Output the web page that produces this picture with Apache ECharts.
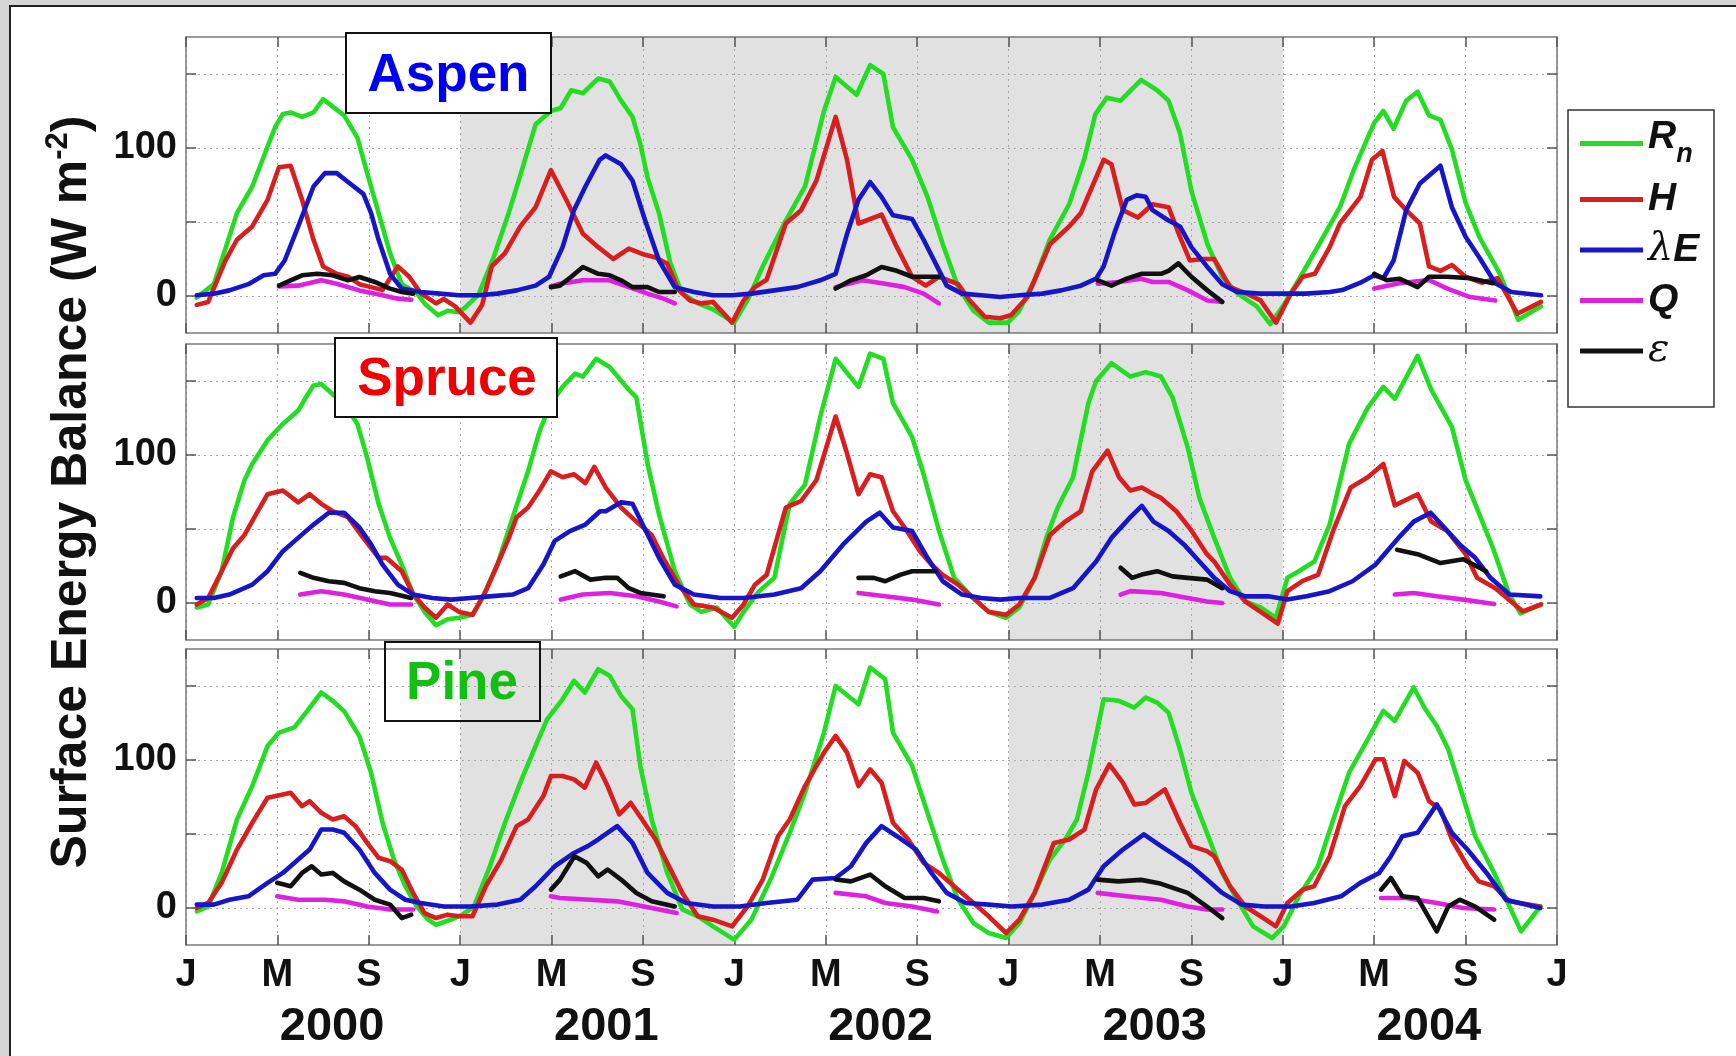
<!DOCTYPE html>
<html><head><meta charset="utf-8">
<script src="https://cdn.jsdelivr.net/npm/echarts@6/dist/echarts.min.js"></script>
<style>
html,body{margin:0;padding:0;width:1736px;height:1056px;overflow:hidden;background:#d6d6d6;}
#frame{position:absolute;left:9px;top:5px;width:1760px;height:1080px;background:#fff;border-left:2px solid #222;border-top:2px solid #222;}
#chart{position:absolute;left:0;top:0;width:1736px;height:1056px;}
</style></head>
<body><div id="frame"></div><div id="chart"></div>
<script>
// ---------- tick labels ----------
const monthLabels = ['J', 'M', 'S'];
const years = ['2000', '2001', '2002', '2003', '2004'];
const yTickValues = [0, 50, 100, 150];
const yLabelValues = [0, 100];
const seriesNames = ['Rn', 'H', 'λE', 'Q', 'ε'];
const siteNames = ['Aspen', 'Spruce', 'Pine'];

// ---------- shaded periods (months since Jan 2000) ----------
const aspenShade = [[12, 48]];
const spruceShade = [[36, 48]];
const pineShade = [[12, 24], [36, 48]];

// ---------- ASPEN ----------
const aspenRn = [[0.47,-1],[1.22,8],[2.23,56],[2.9,74],[3.57,101],[3.9,114],[4.24,123],[4.58,124],[5.08,121],[5.58,124],[6.0,133],[6.42,128],[6.92,122],[7.5,107],[7.93,83],[8.43,56],[8.93,29],[9.44,8],[10.1,2],[10.44,-5],[11.03,-13],[11.45,-10],[11.95,-11],[12.2,-8],[12.8,1],[13.46,26],[14.1,55],[14.6,80],[15.3,116],[15.97,125],[16.4,127],[16.86,139],[17.37,137],[18.04,147],[18.54,145],[19.04,132],[19.54,121],[19.88,103],[20.2,80],[20.7,56],[21.2,22],[21.7,2],[22.4,-5],[23.06,-9],[23.99,-18],[24.57,-3],[25.24,20],[26.25,51],[27.09,74],[27.92,125],[28.43,148],[29.35,136],[29.94,156],[30.52,150],[30.94,114],[31.78,92],[32.45,67],[33.12,35],[33.79,6],[34.46,-10],[35.13,-18],[35.97,-18],[36.47,-10],[37.14,11],[37.8,38],[38.65,62],[39.3,92],[39.8,123],[40.3,134],[40.9,132],[41.8,146],[42.5,139],[43.0,132],[43.5,110],[44.0,71],[44.7,35],[45.35,13],[46.0,2],[46.86,-7],[47.45,-19],[48.0,-7],[48.7,11],[49.7,38],[50.5,60],[51.1,85],[52.0,117],[52.4,125],[52.85,113],[53.4,132],[53.9,138],[54.4,122],[54.9,119],[55.4,99],[56.0,63],[56.6,40],[57.5,15],[58.3,-16],[59.3,-7]];
const aspenH = [[0.47,-6],[0.97,-4],[1.73,24],[2.23,38],[2.9,47],[3.57,65],[4.07,87],[4.58,88],[5.08,65],[5.58,38],[6.0,20],[6.59,15],[7.09,13],[7.59,8],[8.1,6],[8.6,4],[9.27,20],[9.77,13],[10.27,2],[10.94,-5],[11.28,-2],[11.78,-7],[12.45,-18],[12.96,-6],[13.38,20],[13.96,29],[14.63,47],[15.3,60],[15.97,85],[16.64,65],[17.37,42],[18.04,33],[18.7,25],[19.38,32],[20.05,28],[20.55,26],[21.05,22],[21.56,4],[22.06,-3],[22.56,-5],[23.06,-4],[23.9,-18],[24.4,-3],[24.9,6],[25.41,11],[26.25,49],[26.92,58],[27.59,78],[28.43,121],[28.93,92],[29.43,49],[30.44,55],[31.11,33],[31.78,13],[32.37,7],[32.95,13],[33.79,8],[34.3,-3],[34.96,-14],[35.63,-15],[36.1,-13],[36.81,-1],[37.81,35],[38.65,47],[39.16,56],[39.66,74],[40.16,92],[40.5,89],[41.0,58],[41.66,53],[42.3,62],[43.0,60],[43.5,40],[43.93,24],[44.5,25],[45.0,25],[45.69,6],[46.36,2],[47.03,-3],[47.7,-18],[48.37,2],[48.87,13],[49.4,15],[50.05,33],[50.5,49],[51.4,67],[51.9,92],[52.36,98],[52.87,67],[53.4,58],[54.0,49],[54.4,20],[54.9,17],[55.4,21],[56.0,13],[56.7,9],[57.4,12],[58.27,-12],[59.3,-4]];
const aspenLE = [[0.47,0.5],[1.22,1.6],[1.9,3.8],[2.73,8],[3.4,14],[3.9,15],[4.32,24],[4.91,47],[5.58,74],[6.08,83],[6.6,83],[7.09,77],[7.76,69],[8.1,56],[8.43,38],[8.93,15],[9.44,5],[10.27,2.7],[11.1,1.6],[11.95,0.5],[12.79,0.5],[13.63,1.6],[14.47,3.8],[15.3,7],[15.89,13],[16.48,33],[16.98,58],[17.48,74],[18.1,92],[18.37,95],[19.04,89],[19.54,78],[20.05,53],[20.7,24],[21.39,6],[22.23,2.7],[23.06,0.5],[23.9,0.5],[24.74,1.6],[25.75,3.8],[26.75,6],[27.76,10.6],[28.43,15],[28.93,42],[29.43,65],[29.94,77],[30.44,67],[30.94,54.5],[31.78,52],[32.28,38],[32.87,20],[33.29,7],[33.96,1.6],[34.8,0.5],[35.63,-0.7],[36.47,0.5],[37.48,1.6],[38.3,3.8],[39.16,7],[39.83,11.7],[40.16,20],[40.66,44],[41.17,65],[41.6,68],[42.0,67],[42.3,58],[43.0,51],[43.5,47],[44.0,33],[44.68,20],[45.35,8],[46.0,2.7],[47.03,1.6],[48.0,1.6],[49.0,1.6],[50.05,2.7],[50.6,4],[51.4,9],[52.0,14],[52.4,12],[52.85,24],[53.4,58],[54.0,76],[54.9,88],[55.4,60],[56.0,40],[56.6,26],[57.3,8.6],[58.0,2.7],[59.3,0.5]];
const aspenQ = [
  [[4.07,6.5],[4.91,7],[5.92,10.6],[6.59,8.3],[7.59,3.8],[8.6,0.5],[9.27,-1.8],[9.86,-2.5]],
  [[15.97,6.5],[16.36,8.3],[17.37,10.6],[18.54,10.6],[19.38,6],[20.2,1.6],[20.9,-1.8],[21.39,-5]],
  [[28.43,6],[29.6,10.6],[30.6,8.3],[31.45,6],[32.28,1.6],[32.95,-5]],
  [[39.9,8.3],[40.8,9.5],[41.8,11.7],[42.3,9.5],[43.0,9.5],[43.85,3.8],[44.7,-3],[45.35,-4]],
  [[52.0,5],[53.1,8.6],[54.4,10.8],[55.2,5],[56.2,-0.7],[57.3,-3]]
];
const aspenEps = [
  [[4.07,7],[4.58,10.6],[5.08,14],[5.75,15],[6.42,14],[7.09,10.6],[7.59,12.8],[8.26,9.5],[8.93,5],[9.44,2.7],[9.94,1.6]],
  [[15.97,6],[16.36,7],[16.86,13],[17.37,19.6],[18.04,15],[18.54,14],[19.04,10.6],[19.54,6],[20.2,6],[20.7,2.7],[21.39,2.7]],
  [[28.43,5],[29.1,10.6],[29.77,14],[30.44,19.6],[31.11,17],[31.78,13],[32.45,13],[32.95,13]],
  [[39.9,10.6],[40.5,7],[41.17,11.7],[41.83,15],[42.67,15],[43.0,17],[43.43,22],[44.0,13],[44.7,3.8],[45.35,-4]],
  [[52.0,15],[52.55,10.6],[53.1,11.7],[53.9,6],[54.4,13],[55.2,13],[56.2,12],[57.2,8.6]]
];

// ---------- SPRUCE ----------
const spruceRn = [[0.47,-3],[0.97,-1],[1.56,21.5],[2.06,58],[2.56,83],[2.9,94],[3.57,110],[4.24,121],[4.91,130],[5.25,139],[5.58,147],[5.92,148],[6.42,141],[6.92,135],[7.5,121],[7.93,98],[8.43,67],[8.93,44],[9.44,26],[9.94,6],[10.44,-6],[10.94,-15],[11.45,-11],[11.95,-10],[12.54,-8],[12.96,3],[13.63,26],[14.3,58],[14.97,89],[15.47,116],[15.97,135],[16.48,146],[17.03,155],[17.37,153],[17.95,165],[18.54,159.5],[19.38,144],[19.71,139],[20.2,94],[20.7,60],[21.39,21.5],[22.06,-1],[22.56,-6],[23.23,-3],[23.99,-16],[24.4,-6],[25.08,8],[25.75,17],[26.42,67],[27.09,80],[27.76,126],[28.43,165],[29.43,146],[29.94,168.5],[30.52,165],[30.94,135],[31.78,112],[32.28,87],[32.95,49],[33.62,17],[34.46,3],[35.13,-6],[35.89,-10],[36.47,-3],[37.14,17],[37.65,44],[38.15,64.5],[38.82,85],[39.49,135],[39.83,150],[40.5,162],[41.33,153],[42.0,156],[42.67,153],[43.17,139],[43.84,105],[44.35,71],[45.0,44],[45.69,17],[46.36,1],[47.03,-3],[47.7,-10],[48.2,17],[48.7,21.5],[49.38,28],[50.05,53],[50.9,107.5],[51.72,132],[52.4,146],[52.9,138],[53.9,167],[54.5,144],[55.4,119],[56.0,83],[56.6,60],[57.2,37],[57.9,6],[58.4,-7],[59.3,-1]];
const spruceH = [[0.47,-1],[0.97,3.4],[1.56,21.5],[2.06,37],[2.56,46],[3.07,60],[3.57,73.5],[4.24,76],[4.91,68],[5.41,73.5],[5.92,67],[6.42,62],[7.09,58],[7.76,44],[8.43,30.5],[8.77,30.5],[9.44,21.5],[9.94,6],[10.44,-3],[10.94,-10],[11.45,-1],[11.95,-6],[12.54,-8],[13.12,8],[13.63,26],[14.13,44],[14.47,58],[14.97,64.5],[15.47,76],[15.97,89],[16.48,85],[16.98,87],[17.48,81],[17.87,92],[18.37,78],[19.04,64.5],[19.71,55],[20.38,46],[20.88,30.5],[21.56,12.4],[22.23,-1],[23.06,-3],[23.9,-10],[24.4,-1],[24.9,12.4],[25.41,19],[26.25,64.5],[26.92,69],[27.59,83],[28.43,126],[28.93,101],[29.43,73.5],[29.94,87],[30.44,85],[30.94,62],[31.45,51],[32.12,35],[32.62,26],[33.12,19],[33.79,12.4],[34.46,3.4],[35.13,-6],[35.89,-8],[36.47,-1],[37.14,17],[37.81,46],[38.48,55],[39.16,62],[39.66,89],[40.33,103],[40.83,85],[41.33,76],[41.83,78],[42.4,73],[42.67,71],[43.34,62],[44.0,49],[44.68,33],[45.0,28],[45.69,12.4],[46.36,1],[47.03,-6],[47.78,-14],[48.2,8],[48.87,15],[49.54,19],[50.21,49],[50.97,78],[51.72,85],[52.4,94],[52.9,66],[53.9,73.5],[54.5,55],[55.2,48.6],[56.0,33],[56.5,17],[57.3,10],[58.5,-5.6],[59.3,-1]];
const spruceLE = [[0.47,3.4],[1.22,3.4],[1.9,5.7],[2.9,12.4],[3.57,21.5],[4.24,35],[4.91,44],[5.58,53],[6.25,61],[6.92,61],[7.59,51],[8.1,39.6],[8.6,26],[9.27,12.4],[9.94,5.7],[10.78,3.4],[11.6,2.3],[12.45,3.4],[13.29,4.5],[14.3,5.7],[14.97,10],[15.64,26],[16.14,42],[16.8,48.6],[17.48,53],[18.12,62],[18.37,62],[19.04,68],[19.54,67],[20.05,51],[20.7,30.5],[21.39,12.4],[22.23,5.7],[23.4,3.4],[24.4,3.4],[25.75,5.7],[26.92,10],[27.76,21.5],[28.76,39.6],[29.77,55],[30.36,61],[30.94,51],[31.78,48.6],[32.45,30.5],[33.12,14.7],[33.96,5.7],[34.8,3.4],[35.63,2.3],[36.47,3.4],[37.81,3.4],[38.82,10],[39.83,28],[40.5,44],[41.33,58],[41.83,65.6],[42.34,55],[43.0,48.6],[43.67,39.6],[44.35,28],[45.0,17],[45.69,8],[46.36,4.5],[47.36,4.5],[48.2,2.3],[49.04,4.5],[50.05,8],[51.05,14.7],[52.06,26],[53.06,44],[53.73,55],[54.47,61],[55.07,51],[55.74,39.6],[56.42,30.5],[57.09,17],[57.92,5.7],[59.27,4.5]];
const spruceQ = [
  [[5.0,5.7],[5.92,8],[6.92,5.7],[7.93,2.3],[8.93,-1],[9.86,-1]],
  [[16.4,2.3],[17.37,5.7],[18.54,6.8],[19.71,4.5],[20.7,1],[21.47,-2.3]],
  [[29.43,6.8],[30.6,4.5],[31.78,2.3],[32.95,-1]],
  [[40.9,5.7],[41.33,8],[42.67,6.8],[43.84,3.4],[44.68,1],[45.35,0]],
  [[52.9,5.7],[53.73,6.8],[54.74,4.5],[55.9,2.3],[57.25,-0.7]]
];
const spruceEps = [
  [[5.0,20.4],[5.58,17],[6.25,14.7],[6.92,13.6],[7.59,10],[8.26,8],[8.93,6.8],[9.86,3.4]],
  [[16.4,18],[17.03,21.5],[17.7,15.8],[18.37,17],[18.87,17],[19.38,10],[19.88,6.8],[20.9,4.5]],
  [[29.43,17],[30.1,17],[30.6,14.7],[31.28,19.2],[31.78,21.5],[32.8,21.5]],
  [[40.9,23.8],[41.4,17],[41.83,19.2],[42.5,21.5],[43.17,18],[43.84,17],[44.68,15.8],[45.35,10]],
  [[53.0,36],[53.9,33],[54.9,27],[55.9,29.6],[56.9,21.5]]
];

// ---------- PINE ----------
const pineRn = [[0.47,-2.3],[0.97,1],[1.56,23.7],[2.23,59.8],[2.9,82.4],[3.57,109.5],[4.07,118.5],[4.74,122],[5.25,132],[5.92,145.6],[6.42,140],[6.92,133],[7.59,116],[8.1,91.4],[8.6,57.6],[9.1,32.7],[9.6,14.7],[10.1,1],[10.6,-7.9],[10.94,-11.3],[11.6,-7.9],[12.1,-4.5],[12.6,1],[13.3,28.2],[13.96,57.6],[14.63,84.7],[15.3,109.5],[15.8,127.5],[16.48,141],[16.98,153.5],[17.45,145.6],[18.04,161.4],[18.54,157],[19.04,143.3],[19.54,134.3],[19.88,96],[20.38,59.8],[21.06,23.7],[21.72,-1],[22.4,-5.6],[23.06,-12.4],[23.99,-21.4],[24.74,-7.9],[25.58,19.2],[26.42,50.8],[27.09,77.9],[27.92,118.5],[28.43,150],[29.43,137.7],[29.94,162.5],[30.6,154.6],[30.94,118.5],[31.78,96],[32.45,64.3],[33.12,32.7],[33.79,5.6],[34.46,-10.2],[35.13,-16.9],[35.89,-20.3],[36.47,-10.2],[37.14,10.2],[37.81,32.7],[38.48,46.3],[38.99,59.8],[39.49,91.4],[40.16,141],[40.83,140],[41.5,135.4],[42.0,142.2],[42.5,138.8],[43.0,132],[43.5,107.2],[44.0,77.9],[44.68,50.8],[45.35,23.7],[46.0,5.6],[46.7,-12.4],[47.53,-20.3],[48.04,-12.4],[48.7,7.9],[49.54,28.2],[50.21,59.8],[50.9,91.4],[51.72,114],[52.4,133.2],[52.9,126.4],[53.73,149],[54.24,134.3],[54.74,123],[55.24,107.2],[55.74,82.4],[56.42,48.5],[57.25,23.7],[57.92,1],[58.43,-15.8],[59.27,1]];
const pineH = [[0.47,0],[0.97,3.4],[1.56,17],[2.23,39.5],[2.9,57.6],[3.57,74.5],[4.24,76.7],[4.58,77.9],[5.08,68.8],[5.41,72.2],[5.92,64.3],[6.42,59.8],[6.92,62],[7.42,55.3],[7.93,44],[8.43,33.9],[8.93,31.6],[9.44,26],[9.94,10.2],[10.44,-3.4],[10.94,-6.8],[11.45,-4.5],[11.95,-5.6],[12.54,-5.6],[13.12,14.7],[13.8,32.7],[14.47,55.3],[14.97,59.8],[15.64,75.6],[15.97,89.2],[16.48,89.2],[16.98,86.9],[17.45,81.3],[17.95,98.2],[18.45,82.4],[18.96,63.2],[19.46,71.1],[19.96,59.8],[20.55,46.3],[21.06,30.5],[21.72,10.2],[22.4,-5.6],[23.06,-7.9],[23.9,-12.4],[24.57,1],[25.24,19.2],[25.91,48.5],[26.42,59.8],[27.09,82.4],[27.92,105],[28.43,116.3],[28.93,105],[29.43,82.4],[29.94,93.7],[30.44,84.7],[30.94,57.6],[31.61,46.3],[32.28,30.5],[32.95,23.7],[33.79,12.4],[34.46,3.4],[35.13,-5.6],[35.89,-16.9],[36.47,-7.9],[37.14,10.2],[37.98,44],[38.65,46.3],[39.32,53],[39.83,80.1],[40.41,97],[41.0,84.7],[41.5,70],[42.0,71],[42.84,80.1],[43.5,57.6],[44.0,41.8],[44.68,38.4],[45.0,35],[45.69,14.7],[46.36,1],[47.03,-5.6],[47.7,-12.4],[48.2,3.4],[48.87,12.4],[49.37,14.7],[50.05,35],[50.72,68.8],[51.39,82.4],[52.06,100.5],[52.4,100.5],[52.9,75.6],[53.32,99.4],[53.9,91.4],[54.4,72.2],[54.9,66.6],[55.4,46.3],[56.08,28.2],[56.58,18],[57.25,14.7],[57.92,4.5],[58.76,2.3],[59.27,1]];
const pineLE = [[0.47,2.3],[1.22,2.3],[1.9,5.6],[2.73,7.9],[3.57,17],[4.24,23.7],[4.91,32.7],[5.41,39.5],[5.92,53],[6.42,53],[6.92,50.8],[7.59,39.5],[8.26,23.7],[8.93,12.4],[9.6,5.6],[10.27,3.4],[11.28,1],[12.45,1],[13.63,2.3],[14.63,5.6],[15.3,14.7],[16.14,28.2],[16.98,37.2],[17.6,42],[18.04,46.3],[18.87,55.3],[19.54,44],[20.2,23.7],[21.06,10.2],[21.89,3.4],[23.06,1],[24.24,1],[25.41,3.4],[26.75,5.6],[27.42,19.2],[28.43,20.3],[29.1,28.2],[29.77,44],[30.44,55.3],[31.11,48.5],[31.95,39.5],[32.62,23.7],[33.29,10.2],[34.13,3.4],[35.13,2.3],[36.14,1],[37.48,2.3],[38.65,5.6],[39.49,12.4],[40.16,28.2],[41.0,39.5],[41.92,49.7],[42.67,41.8],[43.34,35],[44.0,28.2],[44.68,19.2],[45.35,10.2],[46.2,2.3],[47.2,1],[48.37,1],[49.37,3.4],[50.55,7.9],[51.39,17],[52.22,23.7],[52.73,35],[53.23,48.5],[53.9,50.8],[54.74,70],[55.4,50.8],[56.08,39.5],[56.92,23.7],[57.76,5.6],[59.27,0]];
const pineQ = [
  [[3.99,7.9],[4.91,5.6],[6.08,5.6],[6.92,4.5],[7.93,1],[8.93,-1],[9.94,-1]],
  [[15.97,7.9],[16.36,6.8],[17.7,5.6],[18.87,4.5],[20.05,1],[21.47,-3.4]],
  [[28.43,10.2],[29.77,7.9],[30.6,3.4],[31.78,1],[32.87,-2.3]],
  [[39.9,10.2],[41.17,7.9],[42.67,5.6],[43.84,1],[44.68,-1],[45.35,-1]],
  [[52.3,6.8],[53.4,6.8],[54.74,3.4],[55.9,0],[57.25,-1]]
];
const pineEps = [
  [[3.99,17],[4.58,14.7],[5.08,23.7],[5.5,28.2],[5.92,22.6],[6.42,23.7],[6.92,18],[7.59,12.4],[8.26,5.6],[8.93,2.3],[9.44,-6.8],[9.86,-4.5]],
  [[15.97,12.4],[16.36,19],[17.0,35],[17.53,30.5],[18.04,21.4],[18.45,26],[19.04,19.2],[19.71,10.2],[20.38,4.5],[21.39,1]],
  [[28.43,19.2],[29.1,18],[29.94,22.6],[30.6,14.7],[31.45,6.8],[32.28,6.8],[32.95,4.5]],
  [[39.9,19.2],[40.8,18],[41.8,19],[42.64,16.5],[43.84,10.2],[44.68,1],[45.35,-6.8]],
  [[52.3,12.4],[52.73,20.3],[53.23,7.9],[53.9,6.8],[54.74,-15.8],[55.24,1],[55.74,5.6],[56.42,1],[57.25,-7.9]]
];

// ---------- assembly ----------
const FONT = "'Liberation Sans', Arial, Helvetica, sans-serif";
const colors = ['#22dd22', '#d81e1e', '#1616c8', '#e020e0', '#111111'];
const panels = [
  { series: [aspenRn, aspenH, aspenLE, aspenQ, aspenEps], shade: aspenShade },
  { series: [spruceRn, spruceH, spruceLE, spruceQ, spruceEps], shade: spruceShade },
  { series: [pineRn, pineH, pineLE, pineQ, pineEps], shade: pineShade }
];
const gridTops = [37, 344, 649];
const GL = 186, GW = 1371, GH = 296;

function joinSegs(segs) {
  const out = [];
  segs.forEach((s, i) => { if (i) out.push('-'); s.forEach(p => out.push(p)); });
  return out;
}

const grid = gridTops.map(t => ({ left: GL, top: t, width: GW, height: GH }));
grid.push({ left: GL + 9, top: gridTops[2], width: GW, height: GH }); // year-label row

const frameLine = { show: true, onZero: false, lineStyle: { color: '#7a7a7a', width: 1.5 } };
const tickIn = { show: true, inside: true, length: 10, lineStyle: { color: '#555', width: 1.5 } };
const dotted = { show: true, lineStyle: { color: '#a6a6a6', type: [2, 4], width: 1 } };

const xAxis = [], yAxis = [], series = [];
panels.forEach((p, i) => {
  xAxis.push({
    gridIndex: i, type: 'value', min: 0, max: 60, interval: 4, position: 'bottom',
    axisLine: frameLine, axisTick: tickIn, splitLine: dotted,
    axisLabel: { show: i === 2, margin: 12, fontSize: 38, fontWeight: 'bold', color: '#111', fontFamily: FONT,
      showMinLabel: true, showMaxLabel: true,
      formatter: v => monthLabels[Math.round(v / 4) % 3] }
  });
  xAxis.push({
    gridIndex: i, type: 'value', min: 0, max: 60, interval: 4, position: 'top',
    axisLine: frameLine, axisTick: tickIn, splitLine: { show: false }, axisLabel: { show: false }
  });
  yAxis.push({
    gridIndex: i, type: 'value', min: -25, max: 175, position: 'left',
    axisLine: frameLine,
    axisTick: Object.assign({ customValues: yTickValues }, tickIn),
    splitLine: dotted,
    axisLabel: { customValues: yLabelValues, margin: 9, fontSize: 38, fontWeight: 'bold', color: '#111', fontFamily: FONT,
      formatter: v => (yLabelValues.indexOf(v) >= 0 ? String(v) : '') }
  });
  yAxis.push({
    gridIndex: i, type: 'value', min: -25, max: 175, position: 'right',
    axisLine: frameLine,
    axisTick: Object.assign({ customValues: yTickValues }, tickIn),
    splitLine: { show: false }, axisLabel: { show: false }
  });
  // shading
  series.push({
    name: 'shade' + i, type: 'line', xAxisIndex: 2 * i, yAxisIndex: 2 * i, data: [], silent: true, z: -1,
    markArea: { silent: true, z: -1, itemStyle: { color: '#e1e1e1' },
      data: p.shade.map(s => [{ xAxis: s[0] }, { xAxis: s[1] }]) }
  });
  p.series.forEach((d, k) => {
    series.push({
      name: seriesNames[k], type: 'line', xAxisIndex: 2 * i, yAxisIndex: 2 * i,
      data: k >= 3 ? joinSegs(d) : d,
      showSymbol: false, symbol: 'none', connectNulls: false, z: 2 + k,
      lineStyle: { color: colors[k], width: 4.6, join: 'round', cap: 'round' },
      itemStyle: { color: colors[k] }
    });
  });
});
// year labels row
xAxis.push({
  gridIndex: 3, type: 'category', data: years, boundaryGap: true,
  axisLine: { show: false }, axisTick: { show: false }, splitLine: { show: false },
  axisLabel: { margin: 59, fontSize: 47, fontWeight: 'bold', color: '#111', fontFamily: FONT }
});
yAxis.push({ gridIndex: 3, type: 'value', show: false });

const legendRich = {
  R: { fontSize: 39, fontWeight: 'bold', fontStyle: 'italic', fontFamily: FONT, color: '#111', lineHeight: 50, padding: [0, 0, 12, 0] },
  sub: { fontSize: 27, fontWeight: 'bold', fontStyle: 'italic', fontFamily: FONT, color: '#111', lineHeight: 29, verticalAlign: 'bottom' },
  b: { fontSize: 39, fontWeight: 'bold', fontStyle: 'italic', fontFamily: FONT, color: '#111', lineHeight: 44 },
  g: { fontSize: 40, fontWeight: 'normal', fontStyle: 'italic', fontFamily: "'DejaVu Serif', 'Liberation Serif', serif", color: '#111', lineHeight: 44 }
};
const legendText = {
  'Rn': '{R|R}{sub|n}',
  'H': '{b|H}',
  'λE': '{g|λ}{b|E}',
  'Q': '{b|Q}',
  'ε': '{g|ε}'
};

const siteColors = ['#0000f0', '#f00000', '#12c012'];
const boxes = [
  { x: 346, y: 33, w: 205, h: 80, fill: '#ffffff', tx: 448.5, ty: 76.5 },
  { x: 335, y: 338, w: 222, h: 79, fill: '#ffffff', tx: 447, ty: 380 },
  { x: 385, y: 642, w: 155, h: 79, fill: 'rgba(0,0,0,0)', tx: 462, ty: 684.5 }
];
const graphic = [];
boxes.forEach((b, i) => {
  graphic.push({ type: 'rect', z: 100, shape: { x: b.x, y: b.y, width: b.w, height: b.h },
    style: { fill: b.fill, stroke: '#111', lineWidth: 2 } });
  graphic.push({ type: 'text', z: 101, x: b.tx, y: b.ty,
    style: { text: siteNames[i], fill: siteColors[i], font: 'bold 53px ' + FONT, textAlign: 'center', textVerticalAlign: 'middle' } });
});
// legend box
graphic.push({ type: 'rect', z: 50, shape: { x: 1568, y: 110, width: 146, height: 297 },
  style: { fill: '#ffffff', stroke: '#333', lineWidth: 1.5 } });
// y-axis title
graphic.push({ type: 'text', z: 100, x: 72, y: 492, rotation: Math.PI / 2,
  style: { text: '{a|Surface Energy Balance (W m}{s|-2}{a|)}', textAlign: 'center', textVerticalAlign: 'middle',
    rich: {
      a: { fontSize: 50, fontWeight: 'bold', fontFamily: FONT, fill: '#111', lineHeight: 58 },
      s: { fontSize: 31, fontWeight: 'bold', fontFamily: FONT, fill: '#111', lineHeight: 58, verticalAlign: 'top', padding: [0, 0, 24, 0] }
    } } });

const chart = echarts.init(document.getElementById('chart'), null, { renderer: 'canvas' });
chart.setOption({
  animation: false,
  backgroundColor: 'transparent',
  grid: grid,
  xAxis: xAxis,
  yAxis: yAxis,
  legend: {
    data: seriesNames, orient: 'vertical', left: 1580, top: 118, padding: 0,
    itemWidth: 63, itemHeight: 5, itemGap: 11, icon: 'rect', z: 60,
    formatter: n => legendText[n],
    textStyle: { rich: legendRich, color: '#111' }
  },
  graphic: graphic,
  series: series
});
</script></body></html>
